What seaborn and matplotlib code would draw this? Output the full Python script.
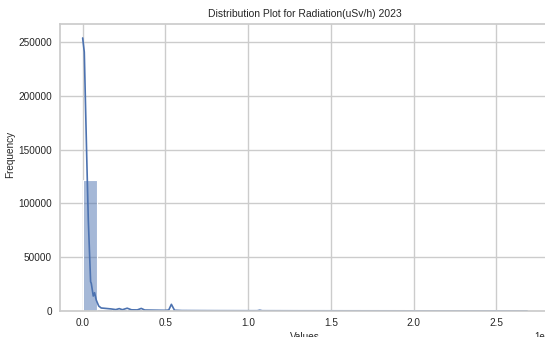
import matplotlib
matplotlib.use("Agg")
import matplotlib.pyplot as plt
import seaborn as sns
import numpy as np
import pandas as pd

# Histogram: 30 equal bins spanning the observed range of readings
bin_lo, bin_hi, n_bins = 0.0, 2685000.0, 30
bin_counts = [121700, 2000, 2100, 2300, 2100, 900, 1400, 150, 50, 40,
              30, 30, 100, 20, 20, 20, 20, 20, 20, 20,
              20, 20, 20, 20, 20, 20, 20, 20, 20, 20]

# Kernel density curve (scaled to counts)
kde_x = [0, 9700, 24000, 34000, 48000, 52000, 64000, 72000, 82000, 97000,
         112000, 173000, 200000, 221000, 240000, 269000, 295000, 330000,
         354000, 375000, 500000, 520000, 536000, 555000, 600000, 800000,
         1000000, 1055000, 1070000, 1085000, 1300000, 2000000, 2685000]
kde_y = [253700, 240700, 146400, 84500, 27200, 25700, 13900, 17000, 10200,
         4600, 2800, 1900, 1300, 2200, 1200, 2600, 1100, 1000,
         2400, 900, 600, 900, 6200, 700, 400, 300,
         250, 250, 700, 250, 200, 150, 100]

sns.set_theme(style="whitegrid")
plt.rcParams["font.family"] = ["Liberation Sans", "DejaVu Sans"]

fig = plt.figure(figsize=(5.45, 3.37), dpi=100)
W, H = 545.0, 337.0
left_px, right_px, top_px, bottom_px = 59.5, 550.2, 24.3, 311.0
ax = fig.add_axes([left_px / W, 1 - bottom_px / H,
                   (right_px - left_px) / W, (bottom_px - top_px) / H])

bin_width = (bin_hi - bin_lo) / n_bins
centers = [bin_lo + (i + 0.5) * bin_width for i in range(n_bins)]
hist_df = pd.DataFrame({"Values": centers, "count": bin_counts})
sns.histplot(data=hist_df, x="Values", weights="count", bins=n_bins,
             binrange=(bin_lo, bin_hi), color="#4c72b0", alpha=0.5,
             edgecolor="white", linewidth=0.8, ax=ax)

kde_df = pd.DataFrame({"x": kde_x, "y": kde_y})
sns.lineplot(data=kde_df, x="x", y="y", color="#4c72b0", linewidth=1.2,
             ax=ax, estimator=None, sort=False)

ax.set_xlim(-140000, 2825000)
ax.set_ylim(0, 266400)
ax.set_yticks([0, 50000, 100000, 150000, 200000, 250000])
ax.set_xticks([0, 500000, 1000000, 1500000, 2000000, 2500000])

ax.set_title("Distribution Plot for Radiation(uSv/h) 2023", fontsize=7.5, pad=5)
ax.set_xlabel("Values", fontsize=7.2, labelpad=3)
ax.set_ylabel("Frequency", fontsize=7.2)
ax.yaxis.set_label_coords(-0.091, 0.547)
ax.tick_params(axis="y", labelsize=7.2, length=0, pad=5.5)
ax.tick_params(axis="x", labelsize=7.2, length=0, pad=5)
ax.xaxis.get_offset_text().set_fontsize(7)

fig.savefig("out.png", dpi=100)
